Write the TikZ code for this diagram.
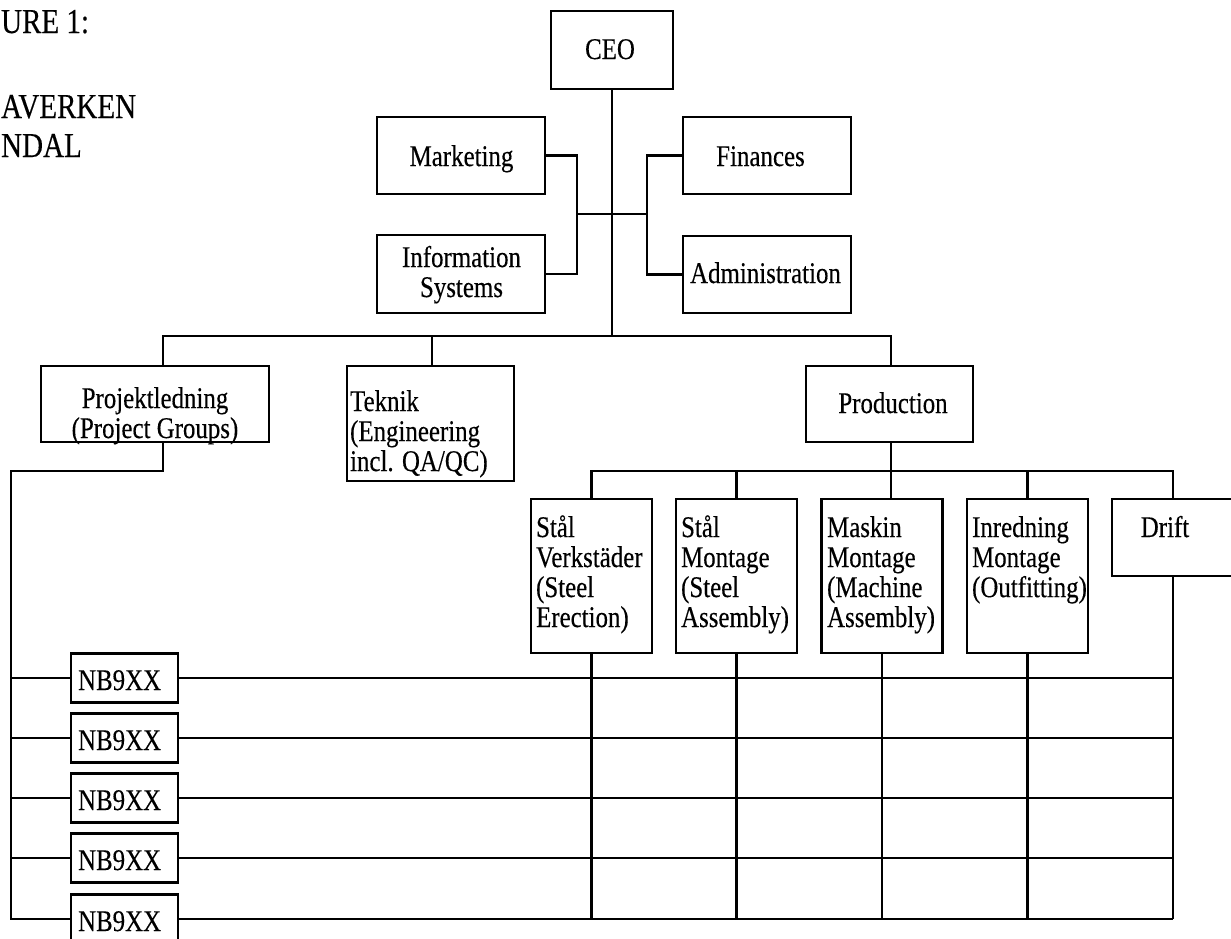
\documentclass[tikz,border=0pt]{standalone}
\usepackage{fontspec}
\setmainfont{Liberation Serif}[FakeStretch=0.83,FakeBold=0.3]
\newcommand{\bxfont}{\fontsize{30}{30}\selectfont}
\newcommand{\ttlfont}{\fontsize{35}{40}\selectfont}
\begin{document}
\begin{tikzpicture}[x=1pt,y=-1pt,line width=2.2pt,
  box/.style={draw,inner sep=0pt,line width=2.2pt},
  topbox/.style={box,minimum width=168pt,minimum height=77pt},
  subbox/.style={box,minimum width=121pt,minimum height=154pt},
  nbbox/.style={box,minimum width=107pt,minimum height=49pt},
  lbl/.style={inner sep=0pt,font=\bxfont},
  ttl/.style={inner sep=0pt,font=\ttlfont,anchor=base west}]
\useasboundingbox (0,0) rectangle (1231,938);
\clip (0,0) rectangle (1231,938);

% title (as printed, cut at the left edge)
\node[ttl] (ttl1) at (0,33) {URE 1:};
\node[ttl] (ttl2) at (0,118) {AVERKEN};
\node[ttl] (ttl3) at (0,157) {NDAL};

% boxes
\node[box,minimum width=122pt,minimum height=78pt] (ceo) at (612,50) {};
\node[topbox] (mkt) at (461,155.5) {};
\node[topbox,minimum height=78pt] (is) at (461,274) {};
\node[topbox] (fin) at (767,155.5) {};
\node[topbox] (adm) at (767,274.5) {};
\node[box,minimum width=228pt,minimum height=76pt] (pl) at (155,404) {};
\node[box,minimum width=167pt,minimum height=115pt] (tek) at (430.5,423.5) {};
\node[box,minimum width=167pt,minimum height=76pt] (prod) at (889.5,404) {};
\node[subbox] (s1) at (591.5,576) {};
\node[subbox] (s2) at (736.5,576) {};
\node[subbox] (s3) at (882,576) {};
\node[subbox] (s4) at (1027.5,576) {};
\node[box,minimum width=122pt,minimum height=77pt] (drift) at (1173,537.5) {};
\node[nbbox] (nb1) at (124.5,678) {};
\node[nbbox] (nb2) at (124.5,738) {};
\node[nbbox] (nb3) at (124.5,798) {};
\node[nbbox] (nb4) at (124.5,858) {};
\node[nbbox] (nb5) at (124.5,919) {};

% labels
\node[lbl,anchor=base] (t-ceo) at (610,59) {CEO};
\node[lbl,anchor=base] (t-mkt) at (461.5,166) {Marketing};
\node[lbl,anchor=base] (t-is) at (461.5,267) {\begin{tabular}[t]{@{}c@{}}Information\\Systems\end{tabular}};
\node[lbl,anchor=base] (t-fin) at (760.5,166) {Finances};
\node[lbl,anchor=base] (t-adm) at (765.5,283) {Administration};
\node[lbl,anchor=base] (t-pl) at (155,408) {\begin{tabular}[t]{@{}c@{}}Projektledning\\(Project Groups)\end{tabular}};
\node[lbl,anchor=base west] (t-tek) at (349,411) {\begin{tabular}[t]{@{}l@{}}Teknik\\(Engineering\\incl. QA/QC)\end{tabular}};
\node[lbl,anchor=base] (t-prod) at (893,413) {Production};
\node[lbl,anchor=base west] (t-s1) at (535,537) {\begin{tabular}[t]{@{}l@{}}Stål\\Verkstäder\\(Steel\\Erection)\end{tabular}};
\node[lbl,anchor=base west] (t-s2) at (680,537) {\begin{tabular}[t]{@{}l@{}}Stål\\Montage\\(Steel\\Assembly)\end{tabular}};
\node[lbl,anchor=base west] (t-s3) at (826,537) {\begin{tabular}[t]{@{}l@{}}Maskin\\Montage\\(Machine\\Assembly)\end{tabular}};
\node[lbl,anchor=base west] (t-s4) at (971,537) {\begin{tabular}[t]{@{}l@{}}Inredning\\Montage\\(Outfitting)\end{tabular}};
\node[lbl,anchor=base] (t-drift) at (1165,537) {Drift};
\node[lbl,anchor=base west] (t-nb1) at (77,690) {NB9XX};
\node[lbl,anchor=base west] (t-nb2) at (77,750) {NB9XX};
\node[lbl,anchor=base west] (t-nb3) at (77,810) {NB9XX};
\node[lbl,anchor=base west] (t-nb4) at (77,870) {NB9XX};
\node[lbl,anchor=base west] (t-nb5) at (77,931) {NB9XX};

% helper coordinates
\coordinate (cbus) at (0,214);
\coordinate (lbx) at (577,0);
\coordinate (rbx) at (647,0);
\coordinate (bus) at (0,336);
\coordinate (sbus) at (0,471);
\coordinate (plx) at (163,0);
\coordinate (tekx) at (432,0);
\coordinate (prx) at (891,0);
\coordinate (lx) at (11,0);

% top level
\draw (ceo.south) -- (ceo.south |- bus);
\draw (mkt.east) -| (lbx |- is.east) -- (is.east);
\draw (fin.west) -| (rbx |- adm.west) -- (adm.west);
\draw (lbx |- cbus) -- (rbx |- cbus);
\draw (pl.north -| plx) |- (prx |- bus) -- (prod.north -| prx);
\draw (tek.north -| tekx) -- (tekx |- bus);

% production
\draw (prod.south -| prx) -- (s3.north -| prx);
\draw (s1.north) |- (drift.north |- sbus) -- (drift.north);
\draw (s2.north) -- (s2.north |- sbus);
\draw (s4.north) -- (s4.north |- sbus);

% project groups
\draw (pl.south -| plx) |- (lx |- sbus) -- (lx |- nb5.west) -- (nb5.west);
\foreach \n in {nb1,nb2,nb3,nb4} {
  \draw (\n.west) -- (lx |- \n.west);
}
\foreach \n in {nb1,nb2,nb3,nb4,nb5} {
  \draw (\n.east) -- (drift.south |- \n.east);
}
\foreach \n in {s1,s2,s3,s4,drift} {
  \draw (\n.south) -- (\n.south |- nb5.east);
}
\end{tikzpicture}
\end{document}
